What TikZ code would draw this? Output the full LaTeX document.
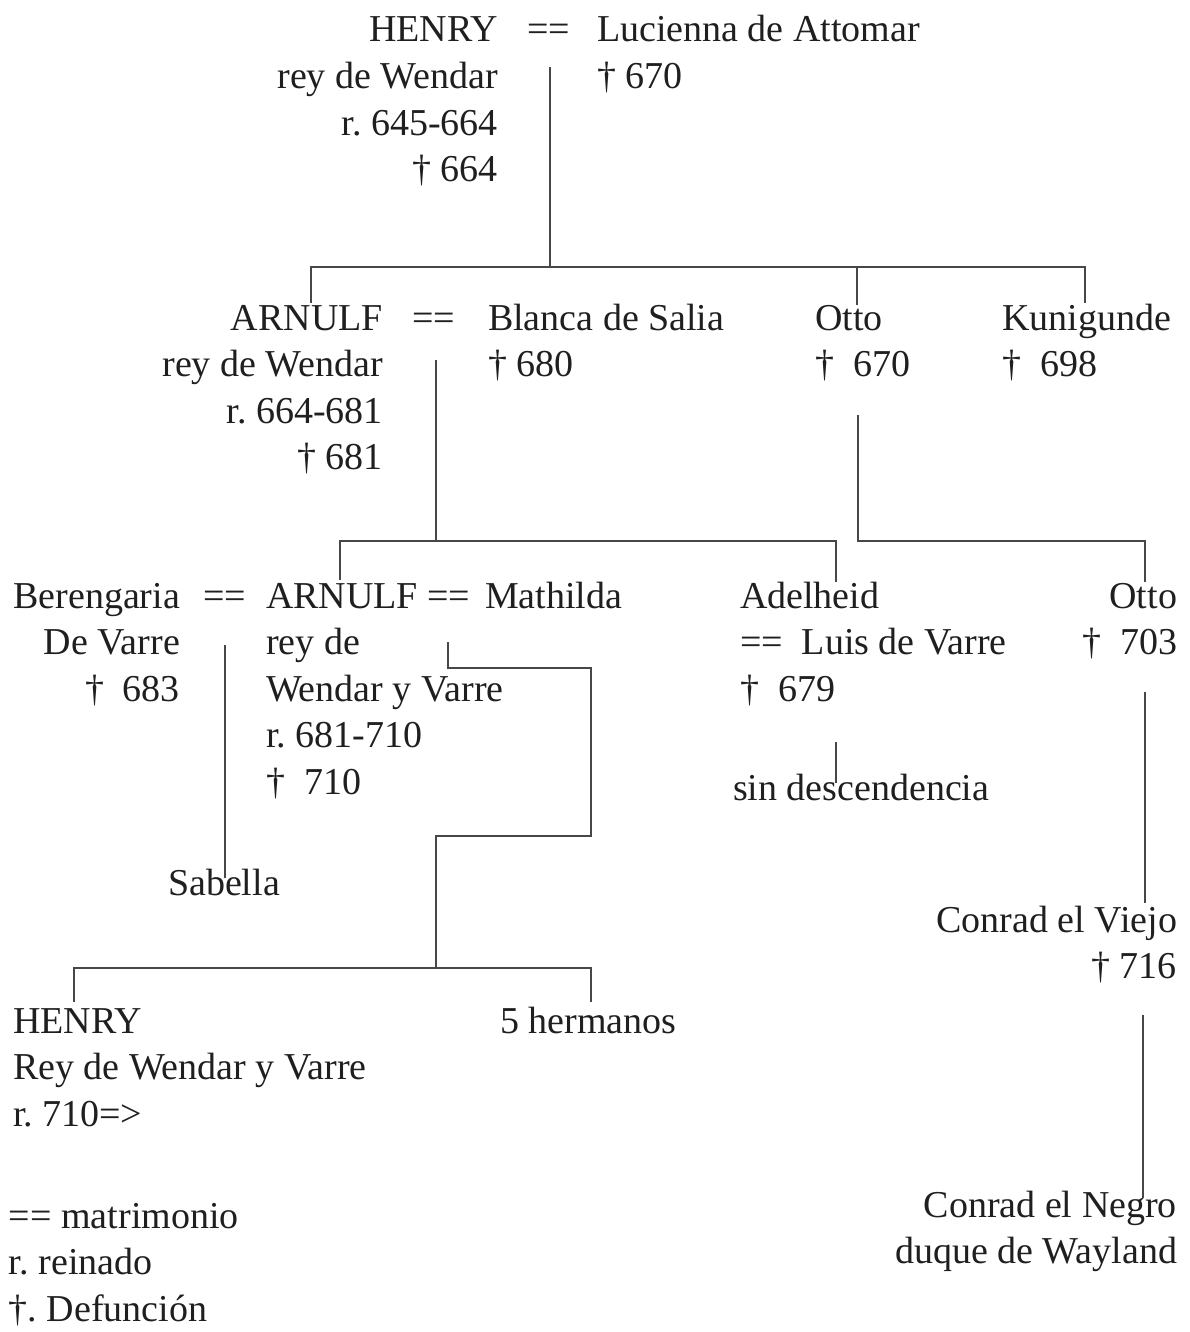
\documentclass[tikz,border=0pt]{standalone}
\usepackage{fontspec}
\setmainfont{Liberation Serif}
\frenchspacing
\newcommand{\RB}[1]{\begin{tabular}[t]{@{}r@{}}#1\end{tabular}}
\newcommand{\LB}[1]{\begin{tabular}[t]{@{}l@{}}#1\end{tabular}}
\tikzset{
  txt/.style={inner sep=0pt, outer sep=0pt, text=black!88, font=\fontsize{38}{46.6}\selectfont\frenchspacing},
  le/.style={txt, anchor=base east},
  lw/.style={txt, anchor=base west},
  lc/.style={txt, anchor=base},
  link/.style={draw=black!72, line width=2pt}
}
\begin{document}
\begin{tikzpicture}[x=1pt,y=-1pt]
\useasboundingbox (0,0) rectangle (1189,1332);
% generation 1
\node[le] (henry1) at (498,42) {\RB{HENRY\\rey de Wendar\\r. 645-664\\† 664}};
\node[lw] (m1) at (527,42) {==};
\node[lw] (lucienna) at (597,42) {\LB{Lucienna de Attomar\\† 670}};
% generation 2
\node[le] (arnulf1) at (383,330) {\RB{ARNULF\\rey de Wendar\\r. 664-681\\† 681}};
\node[lw] (m2) at (412,330) {==};
\node[lw] (blanca) at (488,330) {\LB{Blanca de Salia\\† 680}};
\node[lw] (otto1) at (815,330) {\LB{Otto\\†~ 670}};
\node[lw] (kuni) at (1002,330) {\LB{Kunigunde\\†~ 698}};
% generation 3
\node[le] (beren) at (180,608) {\RB{Berengaria\\De Varre\\†~ 683}};
\node[lw] (m3) at (203,608) {==};
\node[lw] (arnulf2) at (266,608) {\LB{ARNULF\\rey de\\Wendar y Varre\\r. 681-710\\†~ 710}};
\node[lw] (m4) at (427,608) {==};
\node[lw] (mathilda) at (485,608) {Mathilda};
\node[lw] (adel) at (740,608) {\LB{Adelheid\\==~ Luis de Varre\\†~ 679}};
\node[le] (otto2) at (1177,608) {\RB{Otto\\†~ 703}};
\node[lw] (sind) at (733,800) {sin descendencia};
\node[lc] (sabella) at (224,895) {Sabella};
\node[le] (conrad1) at (1177,932) {\RB{Conrad el Viejo\\† 716}};
% generation 4
\node[lw] (henry3) at (13,1033) {\LB{HENRY\\Rey de Wendar y Varre\\r. 710=>}};
\node[lw] (herm) at (500,1033) {5 hermanos};
\node[le] (conrad2) at (1177,1217) {\RB{Conrad el Negro\\duque de Wayland}};
% legend
\node[lw] (legend) at (9,1228) {\LB{== matrimonio\\r. reinado\\†. Defunción}};
% connector coordinates
\coordinate (a1) at (550,67);
\coordinate (a2) at (550,267);
\coordinate (b1) at (311,303);
\coordinate (b2) at (311,267);
\coordinate (b3) at (1085,267);
\coordinate (b4) at (1085,303);
\coordinate (b5) at (857,267);
\coordinate (b6) at (857,305);
\coordinate (c1) at (436,360);
\coordinate (c2) at (436,541);
\coordinate (d1) at (340,580);
\coordinate (d2) at (340,541);
\coordinate (d3) at (836,541);
\coordinate (d4) at (836,582);
\coordinate (e1) at (858,415);
\coordinate (e2) at (858,541);
\coordinate (e3) at (1145,541);
\coordinate (e4) at (1145,582);
\coordinate (f1) at (225,645);
\coordinate (f2) at (225,878);
\coordinate (g1) at (448,642);
\coordinate (g2) at (448,668);
\coordinate (g3) at (591,668);
\coordinate (g4) at (591,836);
\coordinate (g5) at (436,836);
\coordinate (g6) at (436,968);
\coordinate (h1) at (74,1002);
\coordinate (h2) at (74,968);
\coordinate (h3) at (591,968);
\coordinate (h4) at (591,1002);
\coordinate (i1) at (836,742);
\coordinate (i2) at (836,783);
\coordinate (j1) at (1145,692);
\coordinate (j2) at (1145,903);
\coordinate (k1) at (1143,1015);
\coordinate (k2) at (1143,1198);
% connectors
\draw[link] (a1) -- (a2);
\draw[link] (b1) -- (b2) -- (b3) -- (b4);
\draw[link] (b5) -- (b6);
\draw[link] (c1) -- (c2);
\draw[link] (d1) -- (d2) -- (d3) -- (d4);
\draw[link] (e1) -- (e2) -- (e3) -- (e4);
\draw[link] (f1) -- (f2);
\draw[link] (g1) -- (g2) -- (g3) -- (g4) -- (g5) -- (g6);
\draw[link] (h1) -- (h2) -- (h3) -- (h4);
\draw[link] (i1) -- (i2);
\draw[link] (j1) -- (j2);
\draw[link] (k1) -- (k2);
\end{tikzpicture}
\end{document}
